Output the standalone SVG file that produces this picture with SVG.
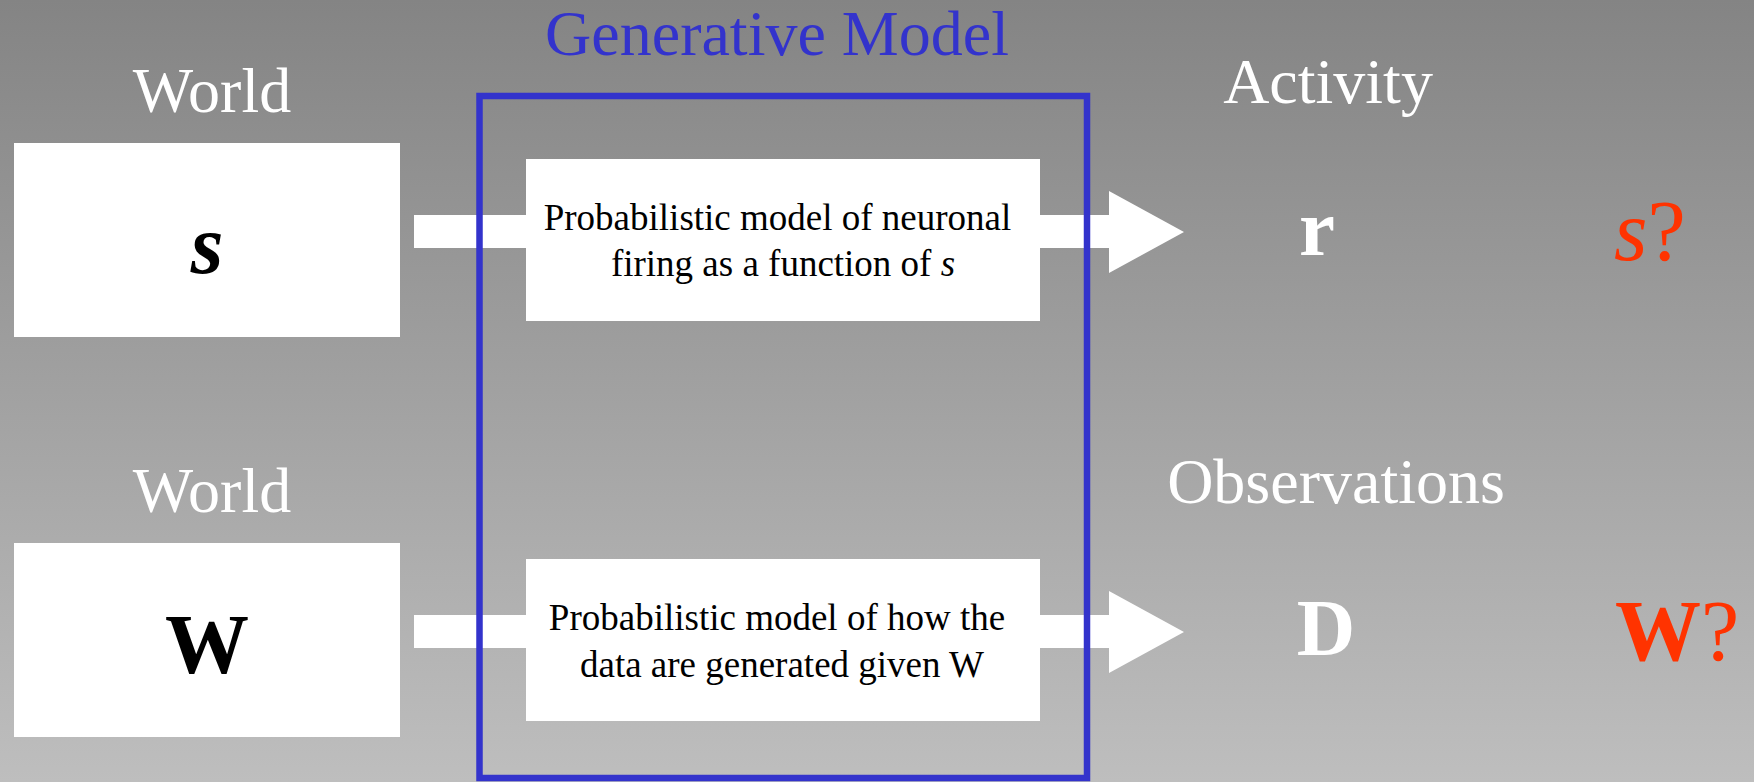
<svg xmlns="http://www.w3.org/2000/svg" width="1754" height="782" viewBox="0 0 1754 782">
  <defs>
    <linearGradient id="bg" x1="0" y1="0" x2="0" y2="1">
      <stop offset="0" stop-color="#848484"/>
      <stop offset="1" stop-color="#bebebe"/>
    </linearGradient>
  </defs>
  <style>
    text { font-family: "Liberation Serif", "Times New Roman", serif; }
    .label { fill: #ffffff; font-size: 64px; text-anchor: middle; }
    .title { fill: #3333cc; font-size: 64px; text-anchor: middle; }
    .box { fill: #ffffff; }
    .body { fill: #000000; font-size: 37px; text-anchor: middle; }
    .sym { fill: #000000; font-size: 84px; text-anchor: middle; }
    .out { fill: #ffffff; font-size: 81px; font-weight: bold; text-anchor: middle; }
    .ask { fill: #ff3300; font-size: 86px; }
    .arrow { fill: #ffffff; }
    .frame { fill: none; stroke: #3333cc; stroke-width: 6.5; }
  </style>

  <rect x="0" y="0" width="1754" height="782" fill="url(#bg)"/>

  <!-- block arrows from the world to the outputs -->
  <g id="connectors">
    <polygon class="arrow" points="414,215 1109,215 1109,191 1184,232 1109,273 1109,248 414,248"/>
    <polygon class="arrow" points="414,615 1109,615 1109,591 1184,632 1109,673 1109,648 414,648"/>
  </g>

  <!-- generative model frame -->
  <g id="generative-model">
    <rect class="frame" x="479.5" y="96" width="607.5" height="682"/>
    <text class="title" x="777" y="55">Generative Model</text>
  </g>

  <!-- top row: stimulus -> neuronal activity -->
  <g id="world-s">
    <text class="label" x="212" y="112">World</text>
    <rect class="box" x="14" y="143" width="386" height="194"/>
    <text class="sym" x="207" y="273" font-size="82" font-weight="bold" font-style="italic">s</text>
  </g>

  <g id="model-firing">
    <rect class="box" x="526" y="159" width="514" height="162"/>
    <text class="body" x="777.5" y="230">Probabilistic model of neuronal</text>
    <text class="body" x="783" y="276">firing as a function of <tspan font-style="italic">s</tspan></text>
  </g>

  <g id="activity-r">
    <text class="label" x="1328" y="103">Activity</text>
    <text class="out" x="1317" y="255">r</text>
  </g>

  <g id="infer-s">
    <text class="ask" x="1614" y="260"><tspan font-style="italic">s</tspan>?</text>
  </g>

  <!-- bottom row: world parameters -> observed data -->
  <g id="world-w">
    <text class="label" x="212" y="512">World</text>
    <rect class="box" x="14" y="543" width="386" height="194"/>
    <text class="sym" x="207" y="673" font-weight="bold">W</text>
  </g>

  <g id="model-data">
    <rect class="box" x="526" y="559" width="514" height="162"/>
    <text class="body" x="777" y="630">Probabilistic model of how the</text>
    <text class="body" x="782" y="677">data are generated given W</text>
  </g>

  <g id="observations-d">
    <text class="label" x="1336" y="503">Observations</text>
    <text class="out" x="1326" y="655">D</text>
  </g>

  <g id="infer-w">
    <text class="ask" x="1615" y="660"><tspan font-weight="bold">W</tspan>?</text>
  </g>
</svg>
